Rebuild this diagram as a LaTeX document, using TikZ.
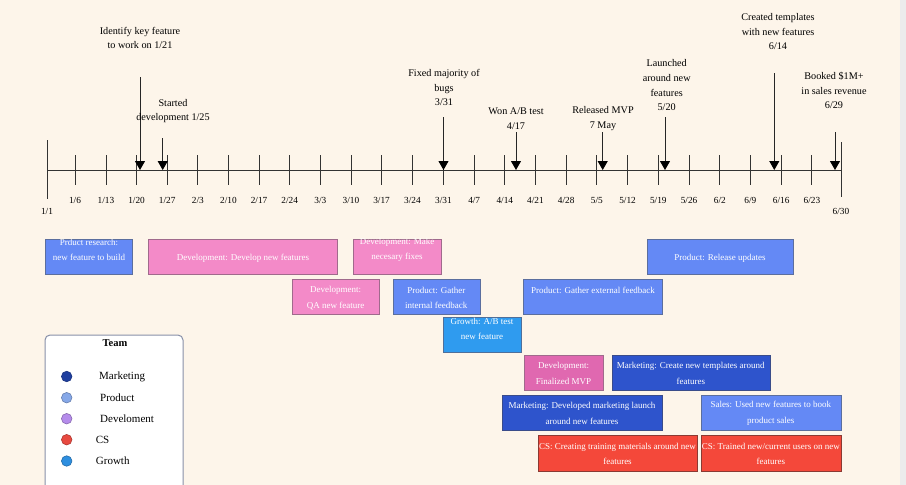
\documentclass[tikz,border=0pt]{standalone}
\usepackage{fontspec}
\setmainfont{Liberation Serif}
\usetikzlibrary{arrows.meta}
\definecolor{bg}{HTML}{FDF5EA}
\definecolor{strip}{HTML}{ECECEC}
\definecolor{axisc}{HTML}{333333}
\definecolor{prodf}{HTML}{6489F5}
\definecolor{prodd}{HTML}{5B6E9E}
\definecolor{devf}{HTML}{F38AC8}
\definecolor{devd}{HTML}{A06A8C}
\definecolor{mvpf}{HTML}{E068B0}
\definecolor{growf}{HTML}{2F9BEF}
\definecolor{growd}{HTML}{4F6F9A}
\definecolor{mktf}{HTML}{2E54CC}
\definecolor{mktd}{HTML}{3A4C8A}
\definecolor{csf}{HTML}{F4483A}
\definecolor{csd}{HTML}{8A3A33}
\definecolor{legd}{HTML}{8890A8}
\definecolor{lmkt}{HTML}{1F3F9F}
\definecolor{lprod}{HTML}{86A8E8}
\definecolor{ldev}{HTML}{B58CEB}
\definecolor{lcs}{HTML}{E84A40}
\definecolor{lgrow}{HTML}{2E8FE0}
\begin{document}
\begin{tikzpicture}[x=1pt,y=-1pt,
  box/.style={anchor=north west,inner sep=0pt,line width=1.1pt,text=white},
  prodbar/.style={box,fill=prodf,draw=prodd},
  devbar/.style={box,fill=devf,draw=devd},
  mvpbar/.style={box,fill=mvpf,draw=devd},
  growbar/.style={box,fill=growf,draw=growd},
  mktbar/.style={box,fill=mktf,draw=mktd},
  csbar/.style={box,fill=csf,draw=csd},
  bartext/.style={text=white,align=center,inner sep=0pt,font=\fontsize{9}{15.5}\selectfont},
  note/.style={align=center,inner sep=0pt,font=\fontsize{10.2}{14.6}\selectfont},
  ticklab/.style={inner sep=0pt,font=\fontsize{9.3}{11}\selectfont},
  evarrow/.style={draw=black!85,line width=0.9pt,-{Triangle[width=10pt,length=9pt,fill=black,color=black]}},
  legdot/.style={circle,minimum size=10.5pt,inner sep=0pt,line width=0.6pt},
  leglab/.style={anchor=west,inner sep=0pt,font=\fontsize{11}{13}\selectfont}
]
\useasboundingbox (0,0) rectangle (906,485);
\fill[bg] (0,0) rectangle (906,485);
\fill[strip] (900,0) rectangle (906,485);

% axis
\coordinate (ax0) at (47,170);
\coordinate (ax1) at (841,170);
\draw[axisc,line width=0.9pt] (ax0) -- (ax1);
\draw[axisc,line width=0.9pt] (47,140) -- (47,199);
\draw[axisc,line width=0.9pt] (841,142) -- (841,197);
\foreach \x/\t in {75/1\slash6,106/1\slash13,136.6/1\slash20,167.2/1\slash27,197.8/2\slash3,228.5/2\slash10,259.1/2\slash17,289.7/2\slash24,320.3/3\slash3,351/3\slash10,381.6/3\slash17,412.4/3\slash24,443.5/3\slash31,474.2/4\slash7,504.8/4\slash14,535.5/4\slash21,566.2/4\slash28,596.8/5\slash5,627.6/5\slash12,658.3/5\slash19,689.1/5\slash26,719.8/6\slash2,750.4/6\slash9,781.2/6\slash16,811.9/6\slash23}{
  \draw[axisc,line width=0.9pt] (\x,155) -- (\x,185);
  \node[ticklab] at (\x,200) {\t};
}
\node[ticklab] (l11) at (47,211) {1/1};
\node[ticklab] (l630) at (841,211) {6/30};

% events
\node[note] (idf) at (140,38) {Identify key feature\\to work on 1/21};
\coordinate (idfs) at (140,77); \coordinate (idfe) at (140,170);
\draw[evarrow] (idfs) -- (idfe);
\node[note] (std) at (173,111) {Started\\development 1/25};
\coordinate (stds) at (162.7,138); \coordinate (stde) at (162.7,170);
\draw[evarrow] (stds) -- (stde);
\node[note] (fix) at (444,87.7) {Fixed majority of\\bugs\\3/31};
\coordinate (fixs) at (443.5,117); \coordinate (fixe) at (443.5,170);
\draw[evarrow] (fixs) -- (fixe);
\node[note] (won) at (516,118.5) {Won A/B test\\4/17};
\coordinate (wons) at (516,132); \coordinate (wone) at (516,170);
\draw[evarrow] (wons) -- (wone);
\node[note] (rel) at (603,118.5) {Released MVP\\7 May};
\coordinate (rels) at (602.7,132); \coordinate (rele) at (602.7,170);
\draw[evarrow] (rels) -- (rele);
\node[note] (lau) at (666.7,85.3) {Launched\\around new\\features\\5/20};
\coordinate (laus) at (665,117); \coordinate (laue) at (665,170);
\draw[evarrow] (laus) -- (laue);
\node[note] (cre) at (778,31.7) {Created templates\\with new features\\6/14};
\coordinate (cres) at (774.3,73); \coordinate (cree) at (774.3,170);
\draw[evarrow] (cres) -- (cree);
\node[note] (boo) at (834,90.7) {Booked \$1M+\\in sales revenue\\6/29};
\coordinate (boos) at (835,132); \coordinate (booe) at (835,170);
\draw[evarrow] (boos) -- (booe);

% bars
\node[prodbar,minimum width=87.3pt,minimum height=34.7pt] (pr) at (45,239) {};
\node[bartext] (prt) at (89,250) {Prduct research:\\new feature to build};
\node[devbar,minimum width=188.7pt,minimum height=34.7pt] (dv) at (148.3,239) {};
\node[bartext] (dvt) at (243,258.3) {Development: Develop new features};
\node[devbar,minimum width=87.4pt,minimum height=34.7pt] (mk) at (353.3,239) {};
\node[bartext] (mkt) at (397,250) {Development: Make\\necesary fixes};
\node[prodbar,minimum width=146pt,minimum height=34.7pt] (ru) at (646.7,239) {};
\node[bartext] (rut) at (720,258.3) {Product: Release updates};

\node[devbar,minimum width=87.3pt,minimum height=34.7pt] (qa) at (292,279.3) {};
\node[bartext] (qat) at (335.7,298) {Development:\\QA new feature};
\node[prodbar,minimum width=87.3pt,minimum height=34.7pt] (gi) at (392.7,279.3) {};
\node[bartext] (git) at (436.3,298) {Product: Gather\\internal feedback};
\node[prodbar,minimum width=139.3pt,minimum height=34.7pt] (ge) at (522.7,279.3) {};
\node[bartext] (get) at (593,290) {Product: Gather external feedback};

\node[growbar,minimum width=77.4pt,minimum height=34.4pt] (ab) at (443.3,317.3) {};
\node[bartext] (abt) at (482,328.7) {Growth: A/B test\\new feature};

\node[mvpbar,minimum width=79.6pt,minimum height=35pt] (mv) at (523.7,355) {};
\node[bartext] (mvt) at (563.5,373.2) {Development:\\Finalized MVP};
\node[mktbar,minimum width=158.3pt,minimum height=35pt] (tp) at (611.7,355) {};
\node[bartext] (tpt) at (690.8,373.2) {Marketing: Create new templates around\\features};

\node[mktbar,minimum width=159.7pt,minimum height=35.3pt] (ml) at (502.3,395) {};
\node[bartext] (mlt) at (582,413.2) {Marketing: Developed marketing launch\\around new features};
\node[prodbar,minimum width=140.3pt,minimum height=35.3pt] (sl) at (700.7,395) {};
\node[bartext] (slt) at (770.8,413.2) {Sales: Used new features to book\\product sales};

\node[csbar,minimum width=159.6pt,minimum height=35.4pt] (tr) at (537.7,435.3) {};
\node[bartext] (trt) at (617.5,453.9) {CS: Creating training materials around new\\features};
\node[csbar,minimum width=140.3pt,minimum height=35.4pt] (tu) at (700.7,435.3) {};
\node[bartext] (tut) at (770.8,453.9) {CS: Trained new/current users on new\\features};

% legend
\draw[legd,fill=white,line width=1pt,rounded corners=5pt] (45,335) rectangle (183,505);
\node[inner sep=0pt,font=\fontsize{10.5}{12}\selectfont\bfseries] (team) at (115,343.3) {Team};
\node[legdot,fill=lmkt,draw=lmkt!80!black] (d1) at (66.7,376.5) {};
\node[leglab] (t1) at (99,376.5) {Marketing};
\node[legdot,fill=lprod,draw=lprod!75!black] (d2) at (66.7,397.7) {};
\node[leglab] (t2) at (100,397.7) {Product};
\node[legdot,fill=ldev,draw=ldev!75!black] (d3) at (66.7,418.7) {};
\node[leglab] (t3) at (100,418.7) {Develoment};
\node[legdot,fill=lcs,draw=lcs!75!black] (d4) at (66.7,439.7) {};
\node[leglab] (t4) at (95.7,439.7) {CS};
\node[legdot,fill=lgrow,draw=lgrow!75!black] (d5) at (66.7,461) {};
\node[leglab] (t5) at (95.7,461) {Growth};
\end{tikzpicture}
\end{document}
